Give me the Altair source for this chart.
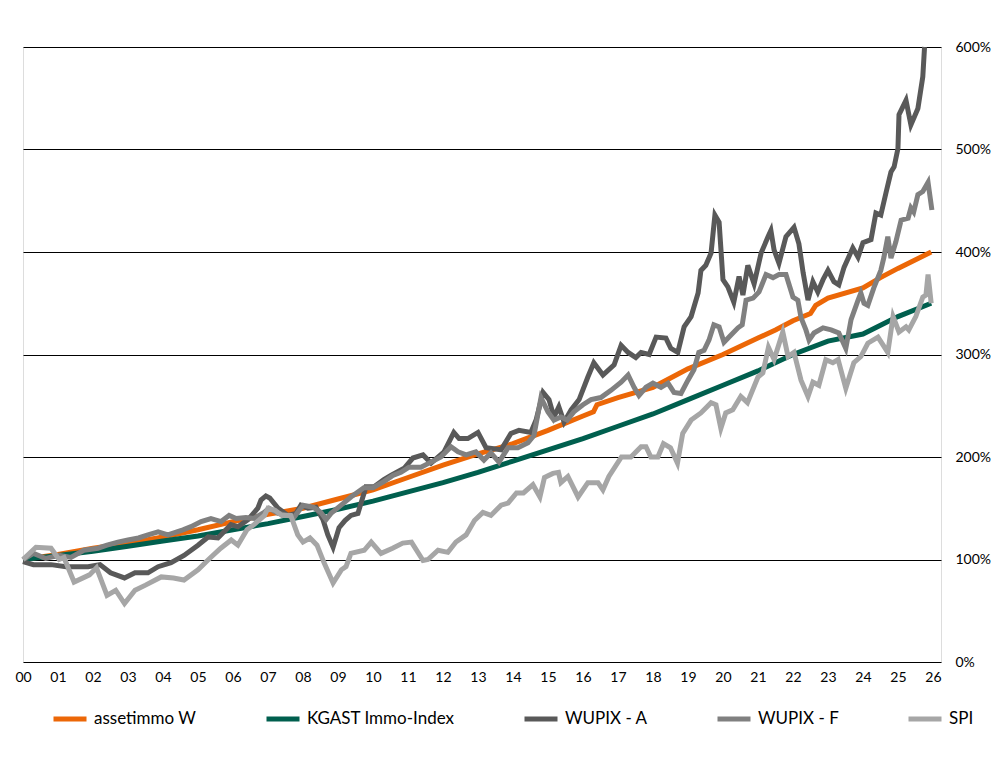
import altair as alt
import pandas as pd

SERIES = ["assetimmo W", "KGAST Immo-Index", "WUPIX - A", "WUPIX - F", "SPI"]
COLORS = ["#EC6707", "#005F4E", "#595959", "#808080", "#A6A6A6"]
WIDTHS = [5, 5, 2.4, 2.4, 2.4]

YEAR_TICKS = list(range(2000, 2027))
PCT_TICKS = [0, 100, 200, 300, 400, 500, 600]

asset_t = [2000, 2001, 2002, 2003, 2004, 2005, 2006, 2007, 2008, 2009, 2010, 2011,
           2012, 2013, 2014, 2015, 2016, 2016.3, 2016.4, 2017, 2018, 2019, 2020, 2021,
           2021.5, 2022, 2022.5, 2022.65, 2023, 2024, 2024.5, 2025, 2025.95]
asset_v = [100, 105, 111, 116, 122, 129, 137, 144, 150, 159, 168, 180,
           192, 203, 213, 226, 240, 244, 251, 258, 268, 286, 300, 316,
           324, 333, 340, 348, 355, 365, 375, 384, 400]

kgast_t = [2000, 2001, 2002, 2003, 2004, 2005, 2006, 2007, 2008, 2009, 2010, 2011,
           2012, 2013, 2014, 2015, 2016, 2017, 2018, 2019, 2020, 2021, 2022, 2023,
           2024, 2025, 2025.95]
kgast_v = [100, 104, 108, 113, 118, 123, 129, 135, 142, 149, 157, 166,
           175, 185, 196, 207, 218, 230, 242, 256, 270, 284, 300, 313,
           320, 337, 350]

wupa_t = [2000.0, 2000.3, 2000.8, 2001.23, 2001.86, 2002.2, 2002.5, 2002.9, 2003.2, 2003.57,
          2003.86, 2004.23, 2004.6, 2005.0, 2005.29, 2005.57, 2005.94, 2006.14, 2006.43, 2006.71,
          2006.8, 2006.94, 2007.05, 2007.29, 2007.57, 2007.8, 2007.94, 2008.14, 2008.37, 2008.57,
          2008.71, 2008.86, 2009.03, 2009.2, 2009.37, 2009.57, 2009.8, 2010.03, 2010.31, 2010.51,
          2010.89, 2011.14, 2011.43, 2011.66, 2012.03, 2012.31, 2012.46, 2012.71, 2013.0, 2013.23,
          2013.66, 2013.94, 2014.17, 2014.51, 2014.66, 2014.86, 2015.03, 2015.17, 2015.31, 2015.46,
          2015.66, 2015.89, 2016.14, 2016.31, 2016.57, 2016.89, 2017.09, 2017.29, 2017.51, 2017.66,
          2017.89, 2018.09, 2018.37, 2018.51, 2018.71, 2018.89, 2019.09, 2019.29, 2019.37, 2019.51,
          2019.66, 2019.77, 2019.89, 2020.0, 2020.14, 2020.31, 2020.46, 2020.57, 2020.71, 2020.89,
          2021.09, 2021.29, 2021.37, 2021.46, 2021.6, 2021.8, 2022.03, 2022.17, 2022.29, 2022.43,
          2022.57, 2022.71, 2022.86, 2023.0, 2023.17, 2023.31, 2023.46, 2023.71, 2023.86, 2024.0,
          2024.23, 2024.37, 2024.51, 2024.66, 2024.8, 2024.89, 2025.0, 2025.03, 2025.23, 2025.37,
          2025.57, 2025.71, 2025.76]
wupa_v = [98, 95, 95, 93, 93, 95, 87, 82, 87, 87,
          93, 97, 104, 114, 122, 121, 134, 132, 139, 150,
          158, 162, 160, 150, 143, 145, 153, 150, 151, 139,
          124, 112, 131, 138, 143, 145, 171, 171, 178, 182,
          189, 199, 202, 194, 205, 224, 218, 218, 224, 209,
          207, 223, 226, 224, 236, 263, 256, 239, 249, 234,
          246, 256, 278, 292, 280, 290, 309, 302, 297, 302,
          300, 317, 316, 306, 302, 327, 337, 360, 382, 387,
          399, 436, 429, 373, 366, 351, 376, 358, 387, 369,
          399, 415, 421, 402, 389, 415, 424, 408, 380, 353,
          371, 361, 373, 382, 371, 368, 385, 404, 395, 409,
          412, 438, 436, 458, 478, 483, 501, 534, 548, 524,
          540, 571, 600]

wupf_t = [2000.0, 2000.3, 2000.65, 2001.03, 2001.37, 2001.74, 2002.14, 2002.4, 2002.71, 2003.0,
          2003.3, 2003.57, 2003.86, 2004.14, 2004.57, 2004.8, 2005.09, 2005.37, 2005.66, 2005.89,
          2006.09, 2006.37, 2006.6, 2006.89, 2007.03, 2007.29, 2007.57, 2007.74, 2008.0, 2008.29,
          2008.51, 2008.66, 2008.8, 2009.09, 2009.37, 2009.74, 2010.0, 2010.31, 2010.57, 2010.8,
          2011.03, 2011.37, 2011.66, 2011.94, 2012.23, 2012.43, 2012.66, 2012.94, 2013.17, 2013.37,
          2013.6, 2013.86, 2014.14, 2014.43, 2014.6, 2014.8, 2015.0, 2015.17, 2015.37, 2015.55,
          2015.74, 2016.0, 2016.23, 2016.51, 2016.8, 2017.09, 2017.29, 2017.46, 2017.6, 2017.8,
          2018.0, 2018.23, 2018.43, 2018.6, 2018.8, 2019.0, 2019.17, 2019.31, 2019.46, 2019.6,
          2019.74, 2019.89, 2020.03, 2020.23, 2020.43, 2020.55, 2020.66, 2020.86, 2021.03, 2021.23,
          2021.43, 2021.6, 2021.8, 2022.0, 2022.14, 2022.23, 2022.37, 2022.46, 2022.6, 2022.86,
          2023.09, 2023.31, 2023.51, 2023.66, 2023.86, 2023.94, 2024.03, 2024.14, 2024.31, 2024.51,
          2024.6, 2024.71, 2024.8, 2024.94, 2025.09, 2025.29, 2025.37, 2025.45, 2025.57, 2025.71,
          2025.86, 2025.97]
wupf_v = [100, 106, 101, 104, 102, 109, 111, 114, 117, 119,
          121, 124, 127, 124, 129, 132, 137, 140, 137, 143,
          140, 141, 140, 146, 150, 145, 143, 141, 153, 151,
          146, 139, 145, 153, 161, 170, 170, 176, 182, 185,
          190, 190, 195, 200, 210, 205, 202, 205, 197, 204,
          195, 209, 209, 214, 221, 258, 244, 236, 239, 236,
          244, 251, 256, 258, 265, 273, 280, 268, 260, 268,
          272, 268, 272, 263, 262, 275, 285, 302, 304, 314,
          329, 327, 312, 319, 326, 329, 353, 355, 361, 378,
          375, 378, 378, 356, 353, 336, 324, 314, 321, 326,
          324, 321, 306, 334, 353, 360, 350, 348, 365, 382,
          395, 415, 394, 410, 431, 433, 443, 439, 456, 459,
          468, 441]

spi_t = [2000.0, 2000.37, 2000.8, 2001.03, 2001.17, 2001.46, 2001.9, 2002.1, 2002.4, 2002.65,
         2002.9, 2003.2, 2003.5, 2003.95, 2004.3, 2004.6, 2005.0, 2005.3, 2005.65, 2005.95,
         2006.14, 2006.4, 2006.6, 2006.9, 2007.0, 2007.2, 2007.4, 2007.65, 2007.85, 2008.0,
         2008.2, 2008.4, 2008.6, 2008.86, 2009.1, 2009.23, 2009.37, 2009.75, 2009.95, 2010.23,
         2010.56, 2010.85, 2011.1, 2011.43, 2011.57, 2011.86, 2012.14, 2012.37, 2012.66, 2012.9,
         2013.14, 2013.37, 2013.66, 2013.86, 2014.1, 2014.3, 2014.57, 2014.77, 2014.9, 2015.14,
         2015.3, 2015.37, 2015.57, 2015.86, 2016.14, 2016.43, 2016.57, 2016.74, 2017.1, 2017.37,
         2017.66, 2017.8, 2017.94, 2018.14, 2018.3, 2018.5, 2018.7, 2018.85, 2019.09, 2019.37,
         2019.66, 2019.8, 2019.94, 2020.08, 2020.28, 2020.51, 2020.7, 2021.0, 2021.14, 2021.3,
         2021.46, 2021.71, 2021.86, 2022.03, 2022.23, 2022.43, 2022.57, 2022.74, 2022.94, 2023.14,
         2023.29, 2023.51, 2023.74, 2023.94, 2024.14, 2024.43, 2024.71, 2024.86, 2025.03, 2025.23,
         2025.31, 2025.51, 2025.71, 2025.8, 2025.86, 2025.95]
spi_v = [100, 112, 111, 100, 102, 78, 85, 92, 65, 70,
         57, 70, 75, 83, 82, 80, 90, 100, 111, 119,
         114, 129, 134, 143, 150, 148, 143, 143, 124, 117,
         121, 114, 97, 77, 90, 93, 106, 109, 117, 106,
         111, 116, 117, 99, 100, 109, 107, 117, 124, 138,
         146, 143, 153, 155, 165, 165, 173, 161, 180, 184,
         185, 175, 181, 161, 175, 175, 168, 181, 200, 200,
         210, 210, 200, 200, 213, 209, 194, 223, 236, 243,
         253, 251, 228, 243, 246, 259, 253, 278, 282, 307,
         295, 322, 298, 302, 275, 259, 273, 270, 295, 292,
         295, 267, 292, 298, 311, 317, 302, 337, 322, 327,
         324, 337, 356, 358, 378, 350]

frames = []
for name, t, v in zip(SERIES, [asset_t, kgast_t, wupa_t, wupf_t, spi_t],
                      [asset_v, kgast_v, wupa_v, wupf_v, spi_v]):
    frames.append(pd.DataFrame({"jahr": t, "wert": v, "serie": name}))
df = pd.concat(frames, ignore_index=True)

FONT = "Lato"

legend = alt.Legend(title=None, orient="none", legendX=28, legendY=653,
                    direction="horizontal", symbolType="stroke", symbolSize=1089,
                    labelFontSize=17, labelFont=FONT, labelColor="black",
                    labelOffset=5, columnPadding=59)

base = alt.Chart(df).mark_line().encode(
    x=alt.X("jahr:Q", scale=alt.Scale(domain=[2000, 2026.23], nice=False, zero=False),
            axis=alt.Axis(values=YEAR_TICKS, title=None, grid=False, ticks=False, domain=False,
                          labelExpr="(datum.value % 100 < 10 ? '0' : '') + (datum.value % 100)",
                          labelFlush=False, labelOverlap=False, labelPadding=8,
                          labelFontSize=14, labelColor="black", labelFont=FONT)),
    y=alt.Y("wert:Q", scale=alt.Scale(domain=[0, 600], nice=False),
            axis=alt.Axis(orient="right", values=PCT_TICKS, title=None, ticks=False, domain=False,
                          labelExpr="datum.value + '%'", gridColor="black", gridWidth=1,
                          labelPadding=14, labelFontSize=14, labelColor="black",
                          labelFont=FONT, labelAlign="left")),
    color=alt.Color("serie:N", scale=alt.Scale(domain=SERIES, range=COLORS), legend=legend),
    strokeWidth=alt.StrokeWidth("serie:N", scale=alt.Scale(domain=SERIES, range=WIDTHS),
                                legend=legend),
)

layers = [base.transform_filter(alt.datum.serie == s) for s in SERIES]

chart = alt.layer(*layers).properties(
    width=918,
    height=615,
    padding={"left": 5, "top": 29, "right": 0, "bottom": 0},
).configure_view(stroke=None).configure(background="white")

chart.save("out.html", embed_options={"renderer": "svg", "actions": False})
